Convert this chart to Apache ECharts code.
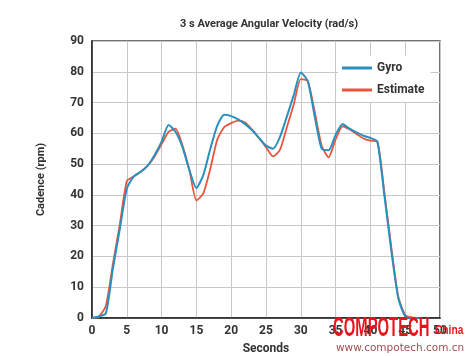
<!DOCTYPE html>
<html><head><meta charset="utf-8">
<script src="https://cdn.jsdelivr.net/npm/echarts@6/dist/echarts.min.js"></script>
<style>html,body{margin:0;padding:0;background:#fff}#c{width:472px;height:356px}</style>
</head><body><div id="c"></div>
<script>
const seconds = [0,1,2,3,4,5,6,7,8,9,10,11,12,13,14,15,16,17,18,19,20,21,22,23,24,25,26,27,28,29,30,31,32,33,34,35,36,37,38,39,40,41,42,43,44,45,46,47];
const gyro = [0,0.5,1.5,16,29,42,46,47.5,49.5,53,57.3,62.7,60.5,55.5,48,42.2,46.5,55,62.5,66,65.6,64.5,63,61,58.5,56,55,58.8,65.5,72.5,79.8,77,65.5,55,54.5,59.5,63,61.5,60.3,59.2,58.5,57.3,40,22,6.5,0.5,0,0];
const estimate = [0,0.5,4,17.5,30.5,44.5,46,47.5,49.5,52.5,56.5,60.5,61.5,56,48,38.2,40.5,48.5,58,62,63.3,64.1,63.5,61.2,58.5,55.5,52.5,54.6,62,69.5,77.6,77,67,56,52.2,58,62.3,61.3,59.8,58.3,57.6,57.3,41,23,7,1,0.2,0];
const xTicks = [0,5,10,15,20,25,30,35,40,45,50];
const yTicks = [0,10,20,30,40,50,60,70,80,90];

const font = 'Roboto, "Liberation Sans", sans-serif';
const chart = echarts.init(document.getElementById('c'), null, {renderer:'canvas'});
chart.setOption({
  animation:false,
  backgroundColor:'#fff',
  title:{text:'3 s Average Angular Velocity (rad/s)', left:264, top:14, textAlign:'center',
    textStyle:{fontFamily:font, fontSize:11, fontWeight:'bold', color:'#333'}},
  legend:{orient:'vertical', left:338, top:56, itemWidth:30, itemHeight:3, itemGap:10, icon:'rect',
    backgroundColor:'#fff', padding:[6,6,6,4],
    textStyle:{fontFamily:font, fontSize:12, fontWeight:'bold', color:'#333'},
    data:['Gyro','Estimate']},
  grid:{left:92, right:32, top:41, bottom:38, show:true, borderColor:'#444', borderWidth:1.5,
    containLabel:false, outerBoundsMode:'none'},
  xAxis:{type:'value', min:xTicks[0], max:xTicks[xTicks.length-1], interval:5,
    name:'Seconds', nameLocation:'middle', nameGap:25,
    nameTextStyle:{fontFamily:font, fontSize:12, fontWeight:'bold', color:'#333'},
    axisLine:{lineStyle:{color:'#222', width:1.5}}, axisTick:{show:false},
    axisLabel:{fontFamily:font, fontSize:12, fontWeight:'bold', color:'#333', margin:7},
    splitLine:{show:true, lineStyle:{color:'#c8c8c8', width:1}}},
  yAxis:{type:'value', min:yTicks[0], max:yTicks[yTicks.length-1], interval:10,
    name:'Cadence (rpm)', nameLocation:'middle', nameGap:45, nameRotate:90,
    nameTextStyle:{fontFamily:font, fontSize:11, fontWeight:'bold', color:'#333'},
    axisLine:{show:true, lineStyle:{color:'#222', width:1.5}}, axisTick:{show:false},
    axisLabel:{fontFamily:font, fontSize:12, fontWeight:'bold', color:'#333', margin:8},
    splitLine:{show:true, lineStyle:{color:'#c8c8c8', width:1}}},
  series:[
    {name:'Estimate', type:'line', showSymbol:false, smooth:0.2, z:2,
      data:seconds.map((s,i)=>[s,estimate[i]]), lineStyle:{color:'#e8553c', width:1.8}, itemStyle:{color:'#e8553c'}},
    {name:'Gyro', type:'line', showSymbol:false, smooth:0.2, z:3,
      data:seconds.map((s,i)=>[s,gyro[i]]), lineStyle:{color:'#2a90bf', width:2}, itemStyle:{color:'#2a90bf'}}
  ],
  graphic:[
    {type:'text', x:333, y:315, scaleX:0.55, z:100, style:{text:'COMPOTECH', fill:'#e8141b', font:'bold 27px "Liberation Sans", sans-serif'}},
    {type:'text', x:435, y:325, scaleX:0.85, z:100, style:{text:'China', fill:'#e8141b', font:'bold 12px "Liberation Sans", sans-serif'}},
    {type:'text', x:336, y:343, z:100, style:{text:'www.compotech.com.cn', fill:'#a05050', font:'10.5px "DejaVu Sans", sans-serif'}}
  ]
});
</script></body></html>
